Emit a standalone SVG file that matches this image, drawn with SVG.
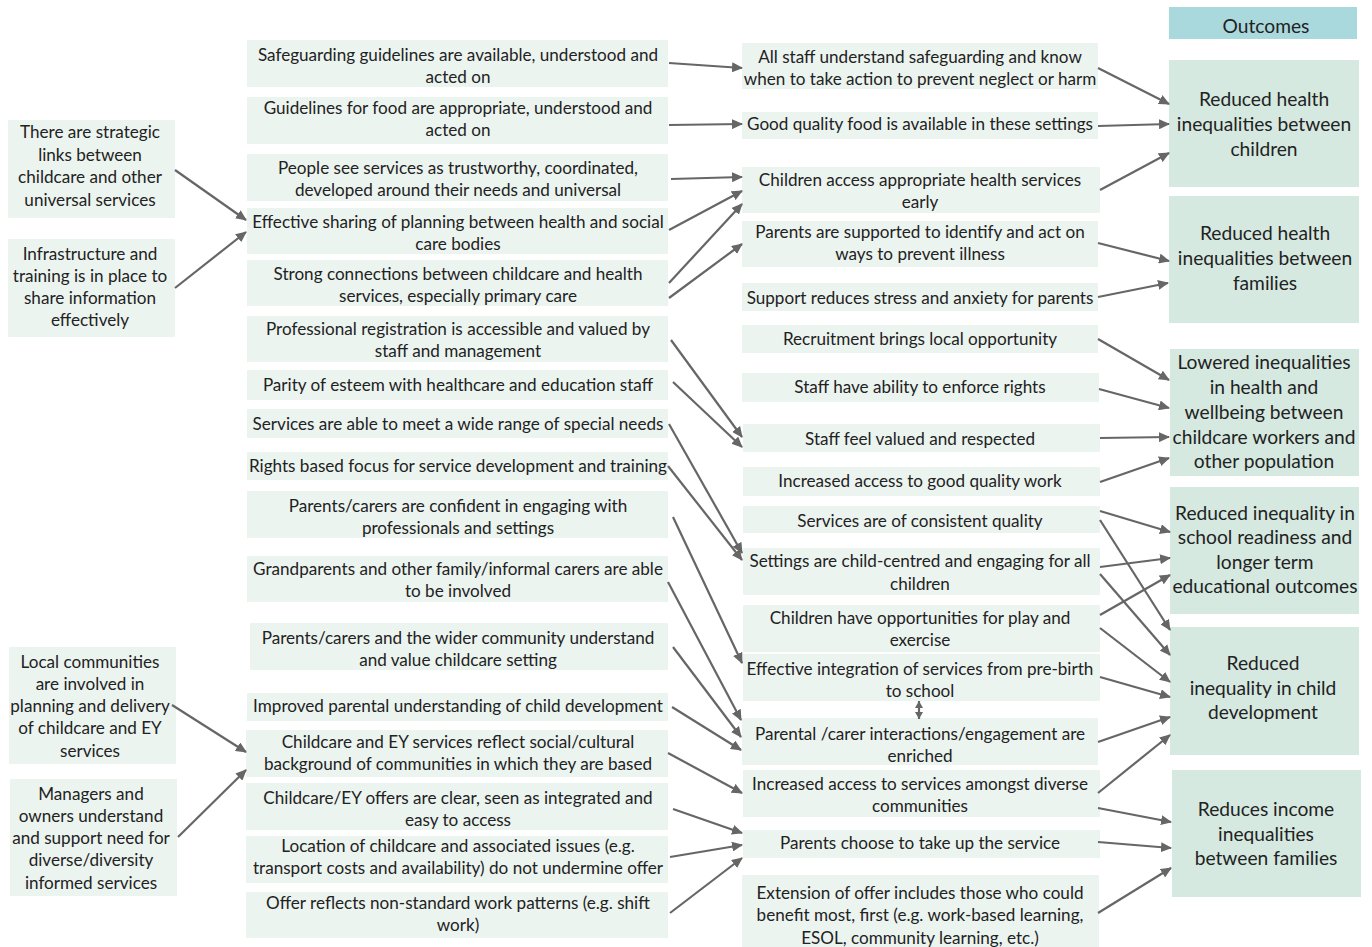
<svg xmlns="http://www.w3.org/2000/svg" width="1372" height="947" viewBox="0 0 1372 947">
<style>
.b{fill:#ecf4f0}
.o{fill:#d5e9e0}
.h{fill:#a9d9dd}
text{font-family:Lato,"Open Sans","Liberation Sans",sans-serif;font-size:17.1px;fill:#222;text-anchor:middle;dominant-baseline:central}
.t{font-size:19.2px}
.c{stroke:#666;stroke-width:2.2;fill:none;marker-end:url(#ah)}
.d{stroke:#666;stroke-width:2.2;fill:none;marker-end:url(#ah2);marker-start:url(#ah2)}
</style>
<defs>
<marker id="ah" markerUnits="userSpaceOnUse" markerWidth="12" markerHeight="10" refX="10" refY="5" orient="auto-start-reverse" viewBox="0 0 12 10">
<path d="M0,0 L11,5 L0,10 Z" fill="#666"/>
</marker>
<marker id="ah2" markerUnits="userSpaceOnUse" markerWidth="8" markerHeight="8" refX="7" refY="4" orient="auto-start-reverse" viewBox="0 0 8 8">
<path d="M0,0 L7,4 L0,8 Z" fill="#666"/>
</marker>
</defs>
<rect width="1372" height="947" fill="#fff"/>

<g id="col1">
<g id="n_strategic"><rect class="b" x="8" y="120" width="167" height="98"/><text x="90" y="131">There are strategic</text><text x="90" y="154">links between</text><text x="90" y="176">childcare and other</text><text x="90" y="199">universal services</text></g>
<g id="n_infra"><rect class="b" x="8" y="239" width="167" height="98"/><text x="90" y="253">Infrastructure and</text><text x="90" y="275">training is in place to</text><text x="90" y="297">share information</text><text x="90" y="319">effectively</text></g>
<g id="n_local"><rect class="b" x="9" y="647" width="167" height="117"/><text x="90" y="661">Local communities</text><text x="90" y="683">are involved in</text><text x="90" y="705">planning and delivery</text><text x="90" y="727">of childcare and EY</text><text x="90" y="750">services</text></g>
<g id="n_managers"><rect class="b" x="10" y="779" width="167" height="117"/><text x="91" y="793">Managers and</text><text x="91" y="815">owners understand</text><text x="91" y="837">and support need for</text><text x="91" y="859">diverse/diversity</text><text x="91" y="882">informed services</text></g>
</g>

<g id="col2">
<g id="n_safeg"><rect class="b" x="247" y="40" width="421" height="47"/><text x="458" y="54">Safeguarding guidelines are available, understood and</text><text x="458" y="76">acted on</text></g>
<g id="n_food"><rect class="b" x="247" y="97" width="421" height="47"/><text x="458" y="107">Guidelines for food are appropriate, understood and</text><text x="458" y="129">acted on</text></g>
<g id="n_people"><rect class="b" x="247" y="154" width="421" height="47"/><text x="458" y="167">People see services as trustworthy, coordinated,</text><text x="458" y="189">developed around their needs and universal</text></g>
<g id="n_sharing"><rect class="b" x="247" y="208" width="421" height="46"/><text x="458" y="221">Effective sharing of planning between health and social</text><text x="458" y="243">care bodies</text></g>
<g id="n_strong"><rect class="b" x="247" y="260" width="421" height="46"/><text x="458" y="273">Strong connections between childcare and health</text><text x="458" y="295">services, especially primary care</text></g>
<g id="n_prof"><rect class="b" x="247" y="316" width="421" height="46"/><text x="458" y="328">Professional registration is accessible and valued by</text><text x="458" y="350">staff and management</text></g>
<g id="n_parity"><rect class="b" x="247" y="370" width="421" height="30"/><text x="458" y="384">Parity of esteem with healthcare and education staff</text></g>
<g id="n_special"><rect class="b" x="247" y="409" width="421" height="29"/><text x="458" y="423">Services are able to meet a wide range of special needs</text></g>
<g id="n_rights"><rect class="b" x="247" y="452" width="421" height="28"/><text x="458" y="465">Rights based focus for service development and training</text></g>
<g id="n_confident"><rect class="b" x="247" y="491" width="421" height="47"/><text x="458" y="505">Parents/carers are confident in engaging with</text><text x="458" y="527">professionals and settings</text></g>
<g id="n_grand"><rect class="b" x="247" y="556" width="421" height="46"/><text x="458" y="568">Grandparents and other family/informal carers are able</text><text x="458" y="590">to be involved</text></g>
<g id="n_wider"><rect class="b" x="250" y="623" width="418" height="47"/><text x="458" y="637">Parents/carers and the wider community understand</text><text x="458" y="659">and value childcare setting</text></g>
<g id="n_improved"><rect class="b" x="247" y="693" width="421" height="28"/><text x="458" y="705">Improved parental understanding of child development</text></g>
<g id="n_reflect"><rect class="b" x="246" y="730" width="422" height="47"/><text x="458" y="741">Childcare and EY services reflect social/cultural</text><text x="458" y="763">background of communities in which they are based</text></g>
<g id="n_clear"><rect class="b" x="246" y="783" width="422" height="47"/><text x="458" y="797">Childcare/EY offers are clear, seen as integrated and</text><text x="458" y="819">easy to access</text></g>
<g id="n_location"><rect class="b" x="246" y="836" width="422" height="47"/><text x="458" y="845">Location of childcare and associated issues (e.g.</text><text x="458" y="867">transport costs and availability) do not undermine offer</text></g>
<g id="n_nonstd"><rect class="b" x="246" y="892" width="422" height="46"/><text x="458" y="902">Offer reflects non-standard work patterns (e.g. shift</text><text x="458" y="924">work)</text></g>
</g>

<g id="col3">
<g id="n_allstaff"><rect class="b" x="742" y="43" width="356" height="46"/><text x="920" y="56">All staff understand safeguarding and know</text><text x="920" y="78">when to take action to prevent neglect or harm</text></g>
<g id="n_goodfood"><rect class="b" x="742" y="112" width="356" height="27"/><text x="920" y="123">Good quality food is available in these settings</text></g>
<g id="n_access"><rect class="b" x="742" y="167" width="358" height="46"/><text x="920" y="179">Children access appropriate health services</text><text x="920" y="201">early</text></g>
<g id="n_prevent"><rect class="b" x="742" y="221" width="356" height="46"/><text x="920" y="231">Parents are supported to identify and act on</text><text x="920" y="253">ways to prevent illness</text></g>
<g id="n_stress"><rect class="b" x="742" y="283" width="356" height="28"/><text x="920" y="297">Support reduces stress and anxiety for parents</text></g>
<g id="n_recruit"><rect class="b" x="742" y="325" width="356" height="28"/><text x="920" y="338">Recruitment brings local opportunity</text></g>
<g id="n_enforce"><rect class="b" x="742" y="373" width="357" height="29"/><text x="920" y="386">Staff have ability to enforce rights</text></g>
<g id="n_valued"><rect class="b" x="743" y="424" width="357" height="28"/><text x="920" y="438">Staff feel valued and respected</text></g>
<g id="n_work"><rect class="b" x="743" y="467" width="357" height="29"/><text x="920" y="480">Increased access to good quality work</text></g>
<g id="n_quality"><rect class="b" x="743" y="506" width="357" height="27"/><text x="920" y="520">Services are of consistent quality</text></g>
<g id="n_centred"><rect class="b" x="743" y="548" width="357" height="47"/><text x="920" y="560">Settings are child-centred and engaging for all</text><text x="920" y="583">children</text></g>
<g id="n_play"><rect class="b" x="743" y="605" width="357" height="47"/><text x="920" y="617">Children have opportunities for play and</text><text x="920" y="639">exercise</text></g>
<g id="n_integr"><rect class="b" x="743" y="654" width="357" height="47"/><text x="920" y="668">Effective integration of services from pre-birth</text><text x="920" y="690">to school</text></g>
<g id="n_parental"><rect class="b" x="742" y="718" width="356" height="47"/><text x="920" y="733">Parental /carer interactions/engagement are</text><text x="920" y="755">enriched</text></g>
<g id="n_diverse"><rect class="b" x="743" y="770" width="357" height="47"/><text x="920" y="783">Increased access to services amongst diverse</text><text x="920" y="805">communities</text></g>
<g id="n_choose"><rect class="b" x="743" y="830" width="357" height="28"/><text x="920" y="842">Parents choose to take up the service</text></g>
<g id="n_ext"><rect class="b" x="742" y="875" width="357" height="72"/><text x="920" y="892">Extension of offer includes those who could</text><text x="920" y="914">benefit most, first (e.g. work-based learning,</text><text x="920" y="937">ESOL, community learning, etc.)</text></g>
</g>

<g id="col4">
<g id="n_outcomes"><rect class="h" x="1169" y="7" width="188" height="32"/><text class="t" x="1266" y="25">Outcomes</text></g>
<g id="o_children"><rect class="o" x="1169" y="60" width="190" height="127"/><text class="t" x="1264" y="98">Reduced health</text><text class="t" x="1264" y="123">inequalities between</text><text class="t" x="1264" y="148">children</text></g>
<g id="o_families"><rect class="o" x="1169" y="196" width="190" height="127"/><text class="t" x="1265" y="232">Reduced health</text><text class="t" x="1265" y="257">inequalities between</text><text class="t" x="1265" y="282">families</text></g>
<g id="o_workers"><rect class="o" x="1170" y="349" width="189" height="127"/><text class="t" x="1264" y="361">Lowered inequalities</text><text class="t" x="1264" y="386">in health and</text><text class="t" x="1264" y="411">wellbeing between</text><text class="t" x="1264" y="436">childcare workers and</text><text class="t" x="1264" y="460">other population</text></g>
<g id="o_school"><rect class="o" x="1170" y="487" width="189" height="127"/><text class="t" x="1265" y="512">Reduced inequality in</text><text class="t" x="1265" y="536">school readiness and</text><text class="t" x="1265" y="561">longer term</text><text class="t" x="1265" y="585">educational outcomes</text></g>
<g id="o_dev"><rect class="o" x="1170" y="627" width="189" height="128"/><text class="t" x="1263" y="662">Reduced</text><text class="t" x="1263" y="687">inequality in child</text><text class="t" x="1263" y="711">development</text></g>
<g id="o_income"><rect class="o" x="1172" y="770" width="189" height="127"/><text class="t" x="1266" y="808">Reduces income</text><text class="t" x="1266" y="833">inequalities</text><text class="t" x="1266" y="857">between families</text></g>
</g>

<g id="connectors">
<line class="c" x1="175" y1="170" x2="246" y2="220"/>
<line class="c" x1="175" y1="288" x2="246" y2="232"/>
<line class="c" x1="172" y1="705" x2="246" y2="752"/>
<line class="c" x1="178" y1="837" x2="246" y2="770"/>

<line class="c" x1="669" y1="63" x2="742" y2="68"/>
<line class="c" x1="669" y1="125" x2="742" y2="124"/>
<line class="c" x1="671" y1="179" x2="742" y2="177"/>
<line class="c" x1="669" y1="230" x2="742" y2="191"/>
<line class="c" x1="669" y1="283" x2="742" y2="204"/>
<line class="c" x1="669" y1="298" x2="742" y2="244"/>
<line class="c" x1="671" y1="340" x2="742" y2="437"/>
<line class="c" x1="673" y1="382" x2="742" y2="447"/>
<line class="c" x1="669" y1="424" x2="742" y2="553"/>
<line class="c" x1="668" y1="466" x2="742" y2="560"/>
<line class="c" x1="673" y1="517" x2="742" y2="663"/>
<line class="c" x1="668" y1="582" x2="741" y2="720"/>
<line class="c" x1="673" y1="647" x2="741" y2="737"/>
<line class="c" x1="672" y1="707" x2="741" y2="750"/>
<line class="c" x1="668" y1="753" x2="742" y2="793"/>
<line class="c" x1="673" y1="809" x2="742" y2="833"/>
<line class="c" x1="670" y1="857" x2="742" y2="845"/>
<line class="c" x1="670" y1="913" x2="742" y2="858"/>

<line class="d" x1="919" y1="701" x2="919" y2="719"/>

<line class="c" x1="1098" y1="68" x2="1169" y2="104"/>
<line class="c" x1="1098" y1="126" x2="1169" y2="124"/>
<line class="c" x1="1100" y1="190" x2="1169" y2="153"/>
<line class="c" x1="1098" y1="243" x2="1169" y2="261"/>
<line class="c" x1="1098" y1="297" x2="1168" y2="283"/>
<line class="c" x1="1098" y1="339" x2="1169" y2="380"/>
<line class="c" x1="1099" y1="389" x2="1169" y2="408"/>
<line class="c" x1="1100" y1="438" x2="1169" y2="437"/>
<line class="c" x1="1100" y1="482" x2="1169" y2="458"/>
<line class="c" x1="1100" y1="511" x2="1170" y2="532"/>
<line class="c" x1="1100" y1="520" x2="1170" y2="630"/>
<line class="c" x1="1100" y1="567" x2="1170" y2="558"/>
<line class="c" x1="1100" y1="574" x2="1170" y2="655"/>
<line class="c" x1="1100" y1="615" x2="1170" y2="575"/>
<line class="c" x1="1100" y1="628" x2="1170" y2="682"/>
<line class="c" x1="1100" y1="677" x2="1170" y2="697"/>
<line class="c" x1="1098" y1="742" x2="1170" y2="717"/>
<line class="c" x1="1098" y1="793" x2="1170" y2="735"/>
<line class="c" x1="1098" y1="808" x2="1171" y2="822"/>
<line class="c" x1="1098" y1="842" x2="1171" y2="848"/>
<line class="c" x1="1098" y1="913" x2="1171" y2="868"/>
</g>
</svg>
